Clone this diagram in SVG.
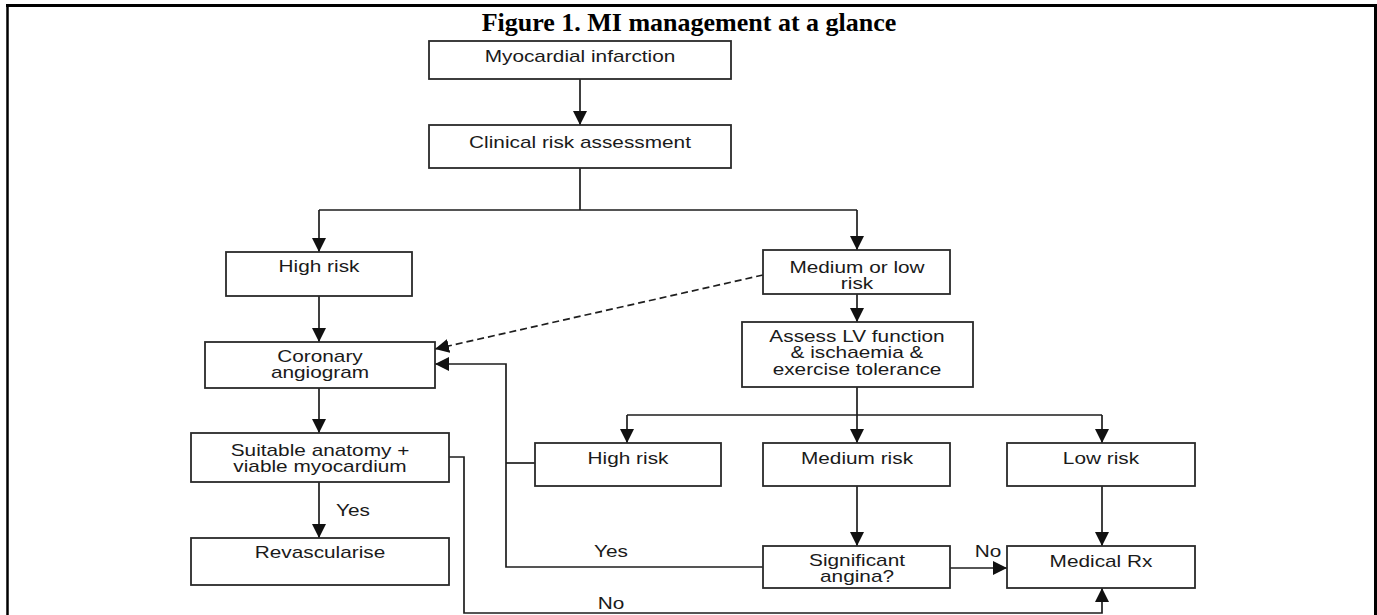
<svg xmlns="http://www.w3.org/2000/svg" width="1377" height="615" viewBox="0 0 1377 615">
<style>
  .frame { fill: none; stroke: #000; }
  .title { font-family: "Liberation Serif", "Times New Roman", serif; font-weight: bold; font-size: 26px; fill: #000; text-anchor: middle; }
  .box { fill: #fff; stroke: #2a2a2a; stroke-width: 1.8; }
  .t { font-family: "Liberation Sans", Arial, sans-serif; font-size: 16px; fill: #1a1a1a; text-anchor: middle; }
  .c { fill: none; stroke: #1e1e1e; stroke-width: 1.7; }
  .dash { stroke-dasharray: 7 4; }
</style>
<defs>
  <marker id="arr" markerUnits="userSpaceOnUse" markerWidth="14" markerHeight="14" refX="14" refY="7" orient="auto">
    <path d="M0,0 L14,7 L0,14 z" fill="#111"/>
  </marker>
</defs>
<rect width="1377" height="615" fill="#fff"/>
<g id="frame">
  <line class="frame" x1="7.5" y1="5" x2="7.5" y2="615" stroke-width="2.5"/>
  <line class="frame" x1="6" y1="5.5" x2="1377" y2="5.5" stroke-width="3"/>
  <line class="frame" x1="1375.5" y1="4" x2="1375.5" y2="615" stroke-width="3"/>
</g>
<text id="title" class="title" x="689" y="31">Figure 1. MI management at a glance</text>

<g id="connectors">
  <path class="c" d="M580,79 V125" marker-end="url(#arr)"/>
  <path class="c" d="M580,168 V210 M319,210 H857"/>
  <path class="c" d="M319,210 V252" marker-end="url(#arr)"/>
  <path class="c" d="M857,210 V250" marker-end="url(#arr)"/>
  <path class="c" d="M319,296 V342" marker-end="url(#arr)"/>
  <path class="c dash" d="M763,275 L435,349" marker-end="url(#arr)"/>
  <path class="c" d="M857,294 V322" marker-end="url(#arr)"/>
  <path class="c" d="M857,387 V415 M627,415 H1102"/>
  <path class="c" d="M627,415 V443" marker-end="url(#arr)"/>
  <path class="c" d="M857,415 V443" marker-end="url(#arr)"/>
  <path class="c" d="M1102,415 V443" marker-end="url(#arr)"/>
  <path class="c" d="M319,388 V433" marker-end="url(#arr)"/>
  <path class="c" d="M319,482 V538" marker-end="url(#arr)"/>
  <path class="c" d="M763,567 H506 V364 H435" marker-end="url(#arr)"/>
  <path class="c" d="M535,463 H506"/>
  <path class="c" d="M857,486 V546" marker-end="url(#arr)"/>
  <path class="c" d="M1102,486 V546" marker-end="url(#arr)"/>
  <path class="c" d="M950,568 H1007" marker-end="url(#arr)"/>
  <path class="c" d="M449,457 H464 V613 H1102 V588" marker-end="url(#arr)"/>
  <text class="t" transform="translate(353 516) scale(1.3 1)">Yes</text>
  <text class="t" transform="translate(611 557) scale(1.3 1)">Yes</text>
  <text class="t" transform="translate(988 557) scale(1.3 1)">No</text>
  <text class="t" transform="translate(611 609) scale(1.3 1)">No</text>
</g>

<g id="myocardial-infarction">
  <rect class="box" x="429" y="41" width="302" height="38"/>
  <text class="t" transform="translate(580 62) scale(1.3 1)">Myocardial infarction</text>
</g>
<g id="clinical-risk">
  <rect class="box" x="429" y="125" width="302" height="43"/>
  <text class="t" transform="translate(580 148) scale(1.3 1)">Clinical risk assessment</text>
</g>
<g id="high-risk-1">
  <rect class="box" x="226" y="252" width="186" height="44"/>
  <text class="t" transform="translate(319 272) scale(1.3 1)">High risk</text>
</g>
<g id="medium-low-risk">
  <rect class="box" x="763" y="250" width="187" height="44"/>
  <text class="t" transform="translate(857 0) scale(1.3 1)"><tspan x="0" y="273">Medium or low</tspan><tspan x="0" y="289">risk</tspan></text>
</g>
<g id="coronary-angiogram">
  <rect class="box" x="205" y="342" width="230" height="46"/>
  <text class="t" transform="translate(320 0) scale(1.3 1)"><tspan x="0" y="362">Coronary</tspan><tspan x="0" y="378">angiogram</tspan></text>
</g>
<g id="assess-lv">
  <rect class="box" x="742" y="322" width="231" height="65"/>
  <text class="t" transform="translate(857 0) scale(1.3 1)"><tspan x="0" y="342">Assess LV function</tspan><tspan x="0" y="358">&amp; ischaemia &amp;</tspan><tspan x="0" y="375">exercise tolerance</tspan></text>
</g>
<g id="high-risk-2">
  <rect class="box" x="535" y="443" width="186" height="43"/>
  <text class="t" transform="translate(628 464) scale(1.3 1)">High risk</text>
</g>
<g id="medium-risk">
  <rect class="box" x="763" y="443" width="187" height="43"/>
  <text class="t" transform="translate(857 464) scale(1.3 1)">Medium risk</text>
</g>
<g id="low-risk">
  <rect class="box" x="1007" y="443" width="188" height="43"/>
  <text class="t" transform="translate(1101 464) scale(1.3 1)">Low risk</text>
</g>
<g id="suitable-anatomy">
  <rect class="box" x="191" y="433" width="258" height="49"/>
  <text class="t" transform="translate(320 0) scale(1.3 1)"><tspan x="0" y="456">Suitable anatomy +</tspan><tspan x="0" y="472">viable myocardium</tspan></text>
</g>
<g id="revascularise">
  <rect class="box" x="191" y="538" width="258" height="47"/>
  <text class="t" transform="translate(320 558) scale(1.3 1)">Revascularise</text>
</g>
<g id="significant-angina">
  <rect class="box" x="763" y="546" width="187" height="42"/>
  <text class="t" transform="translate(857 0) scale(1.3 1)"><tspan x="0" y="566">Significant</tspan><tspan x="0" y="582">angina?</tspan></text>
</g>
<g id="medical-rx">
  <rect class="box" x="1007" y="546" width="188" height="42"/>
  <text class="t" transform="translate(1101 567) scale(1.3 1)">Medical Rx</text>
</g>
</svg>
